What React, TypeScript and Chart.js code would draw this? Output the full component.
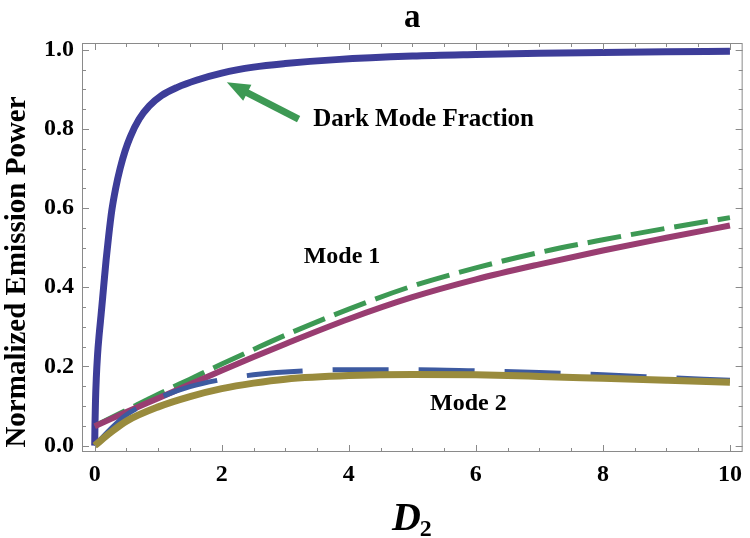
import React, { useEffect, useRef } from "react";
import { Chart, registerables } from "chart.js";

Chart.register(...registerables);

// ---- data ----
const xTickValues = [0, 2, 4, 6, 8, 10];
const yTickValues = [0, 0.2, 0.4, 0.6, 0.8, 1.0];

const darkX = [0, 0.004, 0.012, 0.025, 0.045, 0.07, 0.1, 0.14, 0.18, 0.22, 0.27, 0.33, 0.4, 0.48, 0.56, 0.7, 0.86, 1.05, 1.3, 1.6, 2.0, 2.5, 3.0, 3.8, 5, 6, 7, 8, 9, 10];
const darkY = [0, 0.05, 0.11, 0.17, 0.23, 0.28, 0.33, 0.4, 0.47, 0.53, 0.595, 0.65, 0.7, 0.745, 0.78, 0.825, 0.858, 0.884, 0.905, 0.923, 0.941, 0.956, 0.965, 0.975, 0.984, 0.988, 0.991, 0.993, 0.995, 0.996];

const modeX = [0, 0.25, 0.5, 1, 1.5, 2, 2.5, 3, 4, 5, 6, 7, 8, 9, 10];
const mode1Exact = [0.049, 0.067, 0.085, 0.12, 0.155, 0.19, 0.224, 0.257, 0.32, 0.375, 0.42, 0.458, 0.493, 0.525, 0.556];
const mode1Approx = [0.05, 0.07, 0.09, 0.13, 0.168, 0.206, 0.243, 0.279, 0.345, 0.403, 0.449, 0.488, 0.52, 0.549, 0.576];
const mode2Exact = [0, 0.033, 0.062, 0.098, 0.124, 0.144, 0.158, 0.168, 0.177, 0.18, 0.179, 0.175, 0.17, 0.165, 0.16];
const mode2Approx = [0, 0.042, 0.078, 0.12, 0.149, 0.167, 0.179, 0.186, 0.192, 0.192, 0.189, 0.185, 0.179, 0.172, 0.165];

// ---- annotations (data coordinates) ----
const labelDark = { text: "Dark Mode Fraction", x: 3.44, y: 0.807 };
const labelMode1 = { text: "Mode 1", x: 3.29, y: 0.461 };
const labelMode2 = { text: "Mode 2", x: 5.28, y: 0.091 };
const arrowTail = { x: 3.21, y: 0.825 };
const arrowTip = { x: 2.08, y: 0.918 };

const SERIF = '"Liberation Serif", "Times New Roman", serif';
const C_BLUE = "rgb(61,61,153)";
const C_MAG = "rgb(153,61,113)";
const C_OLIVE = "rgb(153,139,61)";
const C_GREEN = "rgb(61,153,84)";
const C_BLUE2 = "rgb(61,90,160)";

const pts = (xs: number[], ys: number[]) => xs.map((x, i) => ({ x, y: ys[i] }));

const decorPlugin = {
  id: "decor",
  afterDatasetsDraw(chart: any) {
    const { ctx, chartArea: a, scales } = chart;
    const xs = scales.x;
    const ys = scales.y;
    ctx.save();
    // frame
    ctx.strokeStyle = "#8a8a8a";
    ctx.lineWidth = 1;
    ctx.strokeRect(a.left + 0.5, a.top + 0.5, a.right - a.left - 1, a.bottom - a.top - 1);
    ctx.beginPath();
    for (let i = 0; i <= 20; i++) {
      const v = i * 0.5;
      const px = Math.round(xs.getPixelForValue(v)) + 0.5;
      const L = i % 4 === 0 ? 7 : 4;
      ctx.moveTo(px, a.bottom);
      ctx.lineTo(px, a.bottom - L);
      ctx.moveTo(px, a.top);
      ctx.lineTo(px, a.top + L);
    }
    for (let i = 0; i <= 20; i++) {
      const v = i * 0.05;
      const py = Math.round(ys.getPixelForValue(v)) + 0.5;
      const L = i % 4 === 0 ? 7 : 4;
      ctx.moveTo(a.left, py);
      ctx.lineTo(a.left + L, py);
      ctx.moveTo(a.right, py);
      ctx.lineTo(a.right - L, py);
    }
    ctx.stroke();

    // arrow
    const tx = xs.getPixelForValue(arrowTail.x);
    const ty = ys.getPixelForValue(arrowTail.y);
    const hx = xs.getPixelForValue(arrowTip.x);
    const hy = ys.getPixelForValue(arrowTip.y);
    const ang = Math.atan2(hy - ty, hx - tx);
    const headLen = 23;
    const headHalf = 9;
    const bx = hx - headLen * Math.cos(ang);
    const by = hy - headLen * Math.sin(ang);
    ctx.strokeStyle = C_GREEN;
    ctx.fillStyle = C_GREEN;
    ctx.lineWidth = 7;
    ctx.lineCap = "butt";
    ctx.beginPath();
    ctx.moveTo(tx, ty);
    ctx.lineTo(bx + 2 * Math.cos(ang), by + 2 * Math.sin(ang));
    ctx.stroke();
    ctx.beginPath();
    ctx.moveTo(hx, hy);
    ctx.lineTo(bx + headHalf * Math.sin(ang), by - headHalf * Math.cos(ang));
    ctx.lineTo(bx - headHalf * Math.sin(ang), by + headHalf * Math.cos(ang));
    ctx.closePath();
    ctx.fill();

    // labels
    ctx.fillStyle = "#000";
    ctx.textAlign = "left";
    ctx.textBaseline = "alphabetic";
    ctx.font = `bold 25px ${SERIF}`;
    ctx.fillText(labelDark.text, xs.getPixelForValue(labelDark.x), ys.getPixelForValue(labelDark.y));
    ctx.font = `bold 24px ${SERIF}`;
    ctx.fillText(labelMode1.text, xs.getPixelForValue(labelMode1.x), ys.getPixelForValue(labelMode1.y));
    ctx.fillText(labelMode2.text, xs.getPixelForValue(labelMode2.x), ys.getPixelForValue(labelMode2.y));

    // title "a"
    const cx = (a.left + a.right) / 2;
    ctx.textAlign = "center";
    ctx.font = `bold 33px ${SERIF}`;
    ctx.fillText("a", cx, 27);

    // x-axis title D_2
    ctx.textAlign = "left";
    ctx.font = `italic bold 40px ${SERIF}`;
    const wD = ctx.measureText("D").width;
    ctx.font = `bold 24px ${SERIF}`;
    const w2 = ctx.measureText("2").width;
    const startX = cx - (wD + w2) / 2;
    ctx.font = `italic bold 40px ${SERIF}`;
    ctx.fillText("D", startX, 530);
    ctx.font = `bold 24px ${SERIF}`;
    ctx.fillText("2", startX + wD - 1, 536);

    // y-axis title
    ctx.save();
    ctx.translate(18, 272);
    ctx.rotate(-Math.PI / 2);
    ctx.textAlign = "center";
    ctx.textBaseline = "middle";
    ctx.font = `bold 29px ${SERIF}`;
    ctx.fillText("Normalized Emission Power", 0, 0);
    ctx.restore();

    ctx.restore();
  },
};

export default function App() {
  const ref = useRef<HTMLCanvasElement | null>(null);
  useEffect(() => {
    if (!ref.current) return;
    const tickFont = { family: SERIF, size: 24, weight: "bold" as const };
    const line = (data: any, color: string, width: number, dash: number[] = []) => ({
      data,
      borderColor: color,
      backgroundColor: color,
      borderWidth: width,
      borderDash: dash,
      borderCapStyle: "butt",
      pointRadius: 0,
      showLine: true,
      fill: false,
      cubicInterpolationMode: "monotone",
    });
    const chart = new Chart(ref.current, {
      type: "scatter",
      data: {
        datasets: [
          line(pts(modeX, mode2Exact), C_OLIVE, 7),
          line(pts(modeX, mode2Approx), C_BLUE2, 5, [56, 30]),
          line(pts(modeX, mode1Exact), C_MAG, 6),
          line(pts(modeX, mode1Approx), C_GREEN, 5, [34, 10]),
          line(pts(darkX, darkY), C_BLUE, 7),
        ] as any,
      },
      options: {
        animation: false,
        responsive: false,
        devicePixelRatio: 1,
        layout: { padding: { top: 43, right: 3, left: 0, bottom: 0 } },
        plugins: { legend: { display: false }, tooltip: { enabled: false }, title: { display: false } },
        scales: {
          x: {
            type: "linear",
            min: -0.2,
            max: 10.2,
            grid: { display: false, drawTicks: false },
            border: { display: false },
            afterBuildTicks: (s: any) => {
              s.ticks = xTickValues.map((v) => ({ value: v }));
            },
            afterFit: (s: any) => {
              s.height = 86;
            },
            ticks: {
              font: tickFont,
              color: "#000",
              padding: 8,
              maxRotation: 0,
              callback: (v: any) => String(v),
            },
          },
          y: {
            type: "linear",
            min: -0.016,
            max: 1.017,
            grid: { display: false, drawTicks: false },
            border: { display: false },
            afterBuildTicks: (s: any) => {
              s.ticks = yTickValues.map((v) => ({ value: v }));
            },
            afterFit: (s: any) => {
              s.width = 82;
            },
            ticks: {
              font: tickFont,
              color: "#000",
              padding: 8,
              callback: (v: any) => Number(v).toFixed(1),
            },
          },
        },
      } as any,
      plugins: [decorPlugin],
    });
    return () => chart.destroy();
  }, []);
  return (
    <div style={{ position: "fixed", left: 0, top: 0, width: 750, height: 538, background: "#fff" }}>
      <canvas ref={ref} width={750} height={538} style={{ width: 750, height: 538, display: "block" }} />
    </div>
  );
}
